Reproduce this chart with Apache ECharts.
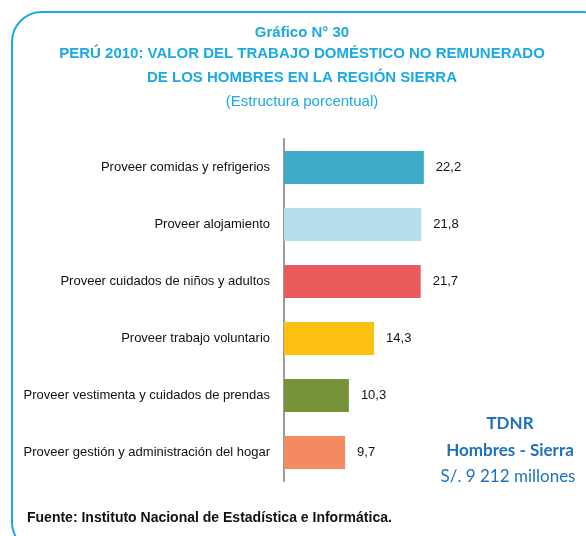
<!DOCTYPE html>
<html>
<head>
<meta charset="utf-8">
<script src="https://cdn.jsdelivr.net/npm/echarts@6/dist/echarts.min.js"></script>
<style>
html,body{margin:0;padding:0;background:#fff;}
#chart{width:586px;height:536px;}
</style>
</head>
<body>
<div id="chart"></div>
<script>
// datos del gráfico
var categorias = [
	'Proveer comidas y refrigerios',
	'Proveer alojamiento',
	'Proveer cuidados de niños y adultos',
	'Proveer trabajo voluntario',
	'Proveer vestimenta y cuidados de prendas',
	'Proveer gestión y administración del hogar'
];
var valores = [22.2, 21.8, 21.7, 14.3, 10.3, 9.7];
var colores = ['#3eaac6', '#b5dfec', '#ea5a5b', '#fbc012', '#789238', '#f48b60'];

var fuente = '"Liberation Sans", Arial, sans-serif';
var azul = '#1aa9e2';
var azulOscuro = '#1f70bd';

var myChart = echarts.init(document.getElementById('chart'));
myChart.setOption({
	animation: false,
	graphic: [
		// marco redondeado
		{type: 'rect', shape: {x: 12, y: 12, width: 600, height: 540, r: 30},
			style: {fill: 'none', stroke: azul, lineWidth: 2}},
		// títulos
		{type: 'text', x: 302, y: 33, style: {text: 'Gráfico N° 30', fill: azul, font: 'bold 15px ' + fuente, align: 'center', verticalAlign: 'middle'}},
		{type: 'text', x: 302, y: 54, style: {text: 'PERÚ 2010: VALOR DEL TRABAJO DOMÉSTICO NO REMUNERADO', fill: azul, font: 'bold 15px ' + fuente, align: 'center', verticalAlign: 'middle'}},
		{type: 'text', x: 302, y: 78, style: {text: 'DE LOS HOMBRES EN LA REGIÓN SIERRA', fill: azul, font: 'bold 15px ' + fuente, align: 'center', verticalAlign: 'middle'}},
		{type: 'text', x: 302, y: 102, style: {text: '(Estructura porcentual)', fill: azul, font: '15px ' + fuente, align: 'center', verticalAlign: 'middle'}},
		// recuadro TDNR
		{type: 'text', x: 510, y: 424, style: {text: 'TDNR', fill: azulOscuro, font: 'bold 17px Lato, "Open Sans", sans-serif', align: 'center', verticalAlign: 'middle'}},
		{type: 'text', x: 510, y: 451, style: {text: 'Hombres - Sierra', fill: azulOscuro, font: 'bold 17px Lato, "Open Sans", sans-serif', align: 'center', verticalAlign: 'middle'}},
		{type: 'text', x: 508, y: 477, style: {text: 'S/. 9 212 millones', fill: azulOscuro, font: '17px Lato, "Open Sans", sans-serif', align: 'center', verticalAlign: 'middle'}},
		// fuente
		{type: 'text', x: 27, y: 518, style: {text: 'Fuente: Instituto Nacional de Estadística e Informática.', fill: '#111', font: 'bold 14px ' + fuente, verticalAlign: 'middle'}}
	],
	grid: {left: 284, top: 139, width: 189, height: 342},
	xAxis: {
		type: 'value', min: 0, max: 30,
		show: false
	},
	yAxis: {
		type: 'category',
		inverse: true,
		data: categorias,
		axisLine: {show: true, lineStyle: {color: '#9a9a9a', width: 2}},
		axisTick: {show: false},
		axisLabel: {fontFamily: fuente, fontSize: 13, color: '#111', margin: 14}
	},
	series: [{
		type: 'bar',
		barWidth: 33,
		data: valores.map(function (v, i) {
			return {value: v, itemStyle: {color: colores[i]}};
		}),
		label: {
			show: true, position: 'right', distance: 12,
			fontFamily: fuente, fontSize: 13, color: '#111',
			formatter: function (p) { return p.value.toFixed(1).replace('.', ','); }
		}
	}]
});
</script>
</body>
</html>
